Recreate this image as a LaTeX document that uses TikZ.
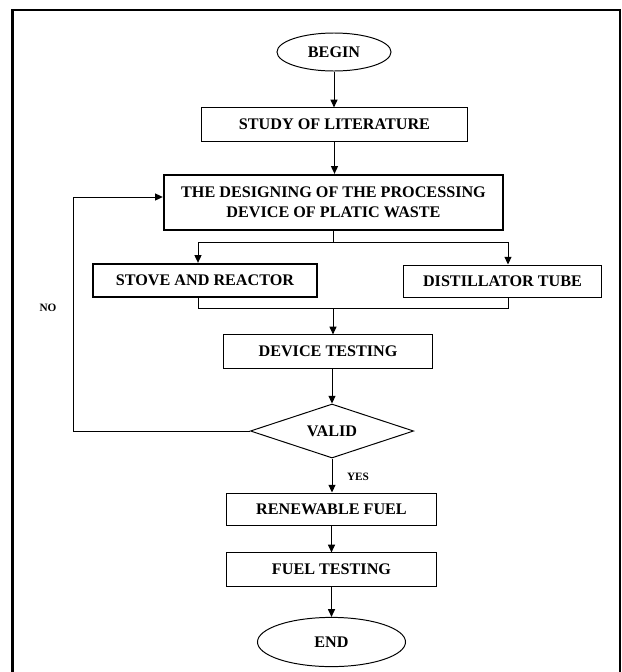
\documentclass[tikz,border=0pt]{standalone}
\usepackage{fontspec}
\setmainfont{Liberation Serif}
\usepackage{tikz}
\usetikzlibrary{positioning,arrows.meta,shapes.geometric}

\begin{document}
\begin{tikzpicture}[x=0.025cm, y=-0.025cm,
    font=\bfseries\fontsize{11.5}{14}\selectfont,
    box/.style={draw, line width=0.7pt, inner sep=2pt, align=center},
    boldbox/.style={box, line width=1.5pt},
    term/.style={draw, ellipse, line width=0.7pt, inner sep=0pt},
    test/.style={draw, diamond, line width=0.7pt, inner sep=0pt, aspect=3},
    flow/.style={line width=0.7pt},
    arr/.style={flow, -{Triangle[length=5.5pt,width=5pt]}},
    lbl/.style={font=\bfseries\fontsize{8}{9}\selectfont}]
\useasboundingbox (0,0) rectangle (622,672);
\draw[line width=1.5pt] (12.5,672) -- (12.5,10) -- (620,10) -- (620,672);

\node[term, minimum width=2.85cm, minimum height=0.95cm] (begin) at (334,52) {BEGIN};
\node[box, minimum width=6.63cm, minimum height=0.83cm] (study) at (334.5,124.5) {STUDY OF LITERATURE};
\node[boldbox, minimum width=8.48cm, minimum height=1.38cm] (design) at (333.5,202.5) {THE DESIGNING OF THE PROCESSING\\DEVICE OF PLATIC WASTE};
\node[boldbox, minimum width=5.6cm, minimum height=0.83cm] (stove) at (205,280.5) {STOVE AND REACTOR};
\node[box, minimum width=4.93cm, minimum height=0.8cm] (distil) at (502.5,281) {DISTILLATOR TUBE};
\node[box, minimum width=5.2cm, minimum height=0.83cm] (devtest) at (328,351.5) {DEVICE TESTING};
\node[test, minimum width=4.08cm, minimum height=1.35cm] (valid) at (332,431) {VALID};
\node[box, minimum width=5.23cm, minimum height=0.8cm] (renew) at (331.5,509) {RENEWABLE FUEL};
\node[box, minimum width=5.23cm, minimum height=0.83cm] (fueltest) at (331.5,569.5) {FUEL TESTING};
\node[term, minimum width=3.7cm, minimum height=1.23cm] (end) at (331.5,642) {END};

\node[lbl] (no) at (48,308) {NO};
\node[lbl] (yes) at (358,477) {YES};

\coordinate (sl) at (198,242);
\coordinate (sr) at (508,242);
\coordinate (ml) at (198,308);
\coordinate (mr) at (508,308);
\coordinate (mc) at (333,308);
\coordinate (fb) at (73,197);

\draw[arr] (begin) -- (begin |- study.north);
\draw[arr] (study) -- (study |- design.north);
\draw[arr] (design.south) -- (design.south |- sl) -| (sl |- stove.north);
\draw[arr] (design.south) -- (design.south |- sr) -| (sr |- distil.north);
\draw[flow] (stove.south -| ml) -- (ml) -- (mr) -- (distil.south -| mr);
\draw[arr] (mc) -- (mc |- devtest.north);
\draw[arr] (valid.north |- devtest.south) -- (valid.north);
\draw[arr] (valid.south) -- (valid.south |- renew.north);
\draw[arr] (renew) -- (fueltest);
\draw[arr] (fueltest) -- (end);
\draw[arr] (valid.west) -| (fb) -- (fb -| design.west);

\end{tikzpicture}
\end{document}
